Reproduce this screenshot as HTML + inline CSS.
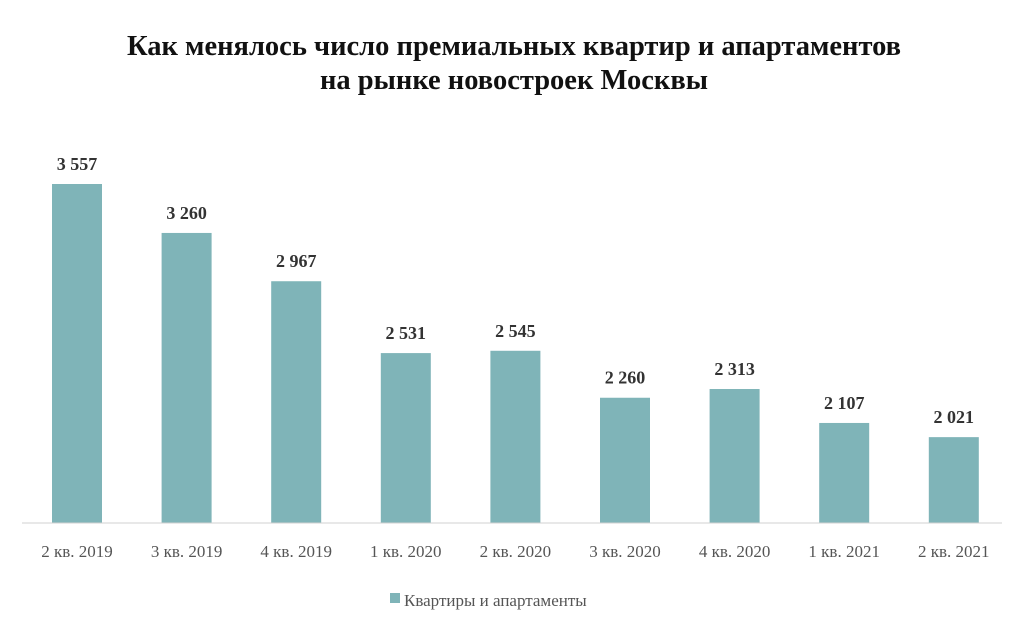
<!DOCTYPE html>
<html><head><meta charset="utf-8"><style>
body{margin:0;background:#fff;}
svg{display:block;font-family:"Liberation Serif",serif;}
</style></head><body>
<svg id="chart" width="1024" height="619">
<text x="514" y="55" text-anchor="middle" font-size="28.5" font-weight="bold" fill="#111">Как менялось число премиальных квартир и апартаментов</text>
<text x="514" y="89" text-anchor="middle" font-size="28.5" font-weight="bold" fill="#111">на рынке новостроек  Москвы</text>
<g id="bars"></g>
<line x1="22" y1="523" x2="1002" y2="523" stroke="#d0d0d0" stroke-width="1"/>
<rect x="390" y="593" width="10" height="10" fill="#7fb4b8"/>
<text x="404" y="606" font-size="17" fill="#555">Квартиры и апартаменты</text>
</svg>
<script>
const categories=["2 кв. 2019","3 кв. 2019","4 кв. 2019","1 кв. 2020","2 кв. 2020","3 кв. 2020","4 кв. 2020","1 кв. 2021","2 кв. 2021"];
const values=[3557,3260,2967,2531,2545,2260,2313,2107,2021];
const valueLabels=["3 557","3 260","2 967","2 531","2 545","2 260","2 313","2 107","2 021"];
const yMin=1500, yMax=3557;
const yBase=523, yTop=184;
function yScale(v){return yBase-(v-yMin)/(yMax-yMin)*(yBase-yTop);}
function xc(i){return 77+i*109.6;}
const g=document.getElementById('bars');
const ns="http://www.w3.org/2000/svg";
categories.forEach((c,i)=>{
 const r=document.createElementNS(ns,'rect');
 r.setAttribute('x',xc(i)-25);r.setAttribute('width',50);
 r.setAttribute('y',yScale(values[i]));r.setAttribute('height',yBase-yScale(values[i]));
 r.setAttribute('fill','#7fb4b8');
 
 
 g.appendChild(r);
 const t=document.createElementNS(ns,'text');
 t.setAttribute('x',xc(i));t.setAttribute('y',yScale(values[i])-14);
 t.setAttribute('text-anchor','middle');t.setAttribute('font-size','18');t.setAttribute('font-weight','bold');t.setAttribute('fill','#333');
 t.textContent=valueLabels[i];
 
 
 g.appendChild(t);
 const l=document.createElementNS(ns,'text');
 l.setAttribute('x',xc(i));l.setAttribute('y',557);
 l.setAttribute('text-anchor','middle');l.setAttribute('font-size','17');l.setAttribute('fill','#555');
 l.textContent=c;
 
 
 g.appendChild(l);
});
</script>
</body></html>
